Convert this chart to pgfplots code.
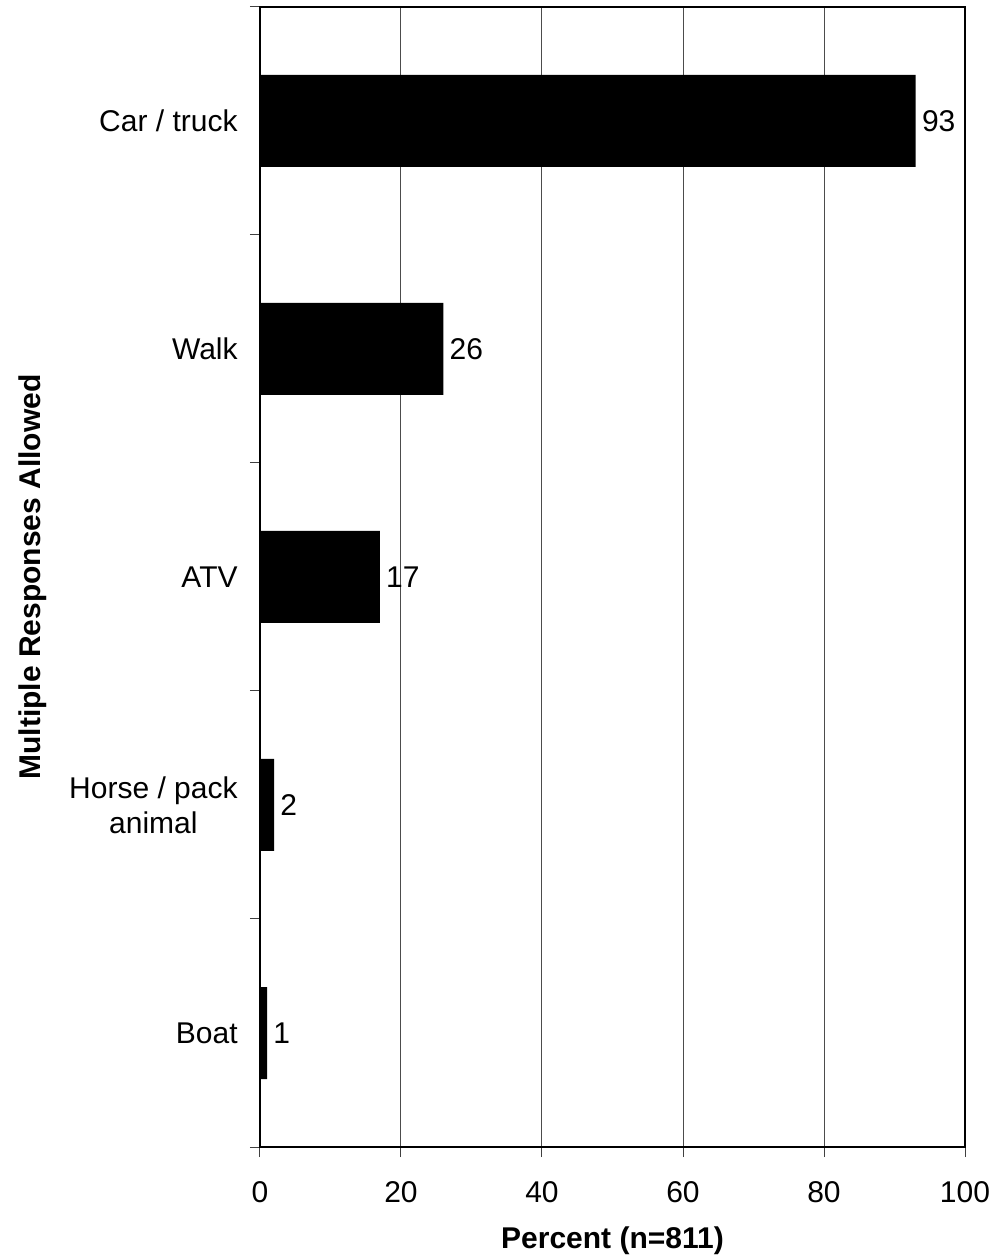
\documentclass[border=0pt]{standalone}
\usepackage{fontspec}
\setmainfont{Liberation Sans}
\usepackage{pgfplots}
\pgfplotsset{compat=1.18}
\begin{document}
\fontsize{15}{17.5}\selectfont
\begin{tikzpicture}
\begin{axis}[
  at={(0,0)}, anchor=south west,
  scale only axis,
  width=352.5pt, height=570pt,
  xbar, bar width=46pt,
  xmin=0, xmax=100, ymin=-0.5, ymax=4.5,
  xtick={0,20,...,100},
  ytick={0,...,4},
  yticklabels={Boat, {Horse / pack\\animal}, ATV, Walk, {Car / truck}},
  yticklabel style={align=center, xshift=-1pt},
  xticklabel style={yshift=-7pt},
  minor ytick={-0.5,0.5,...,4.5},
  major y tick style={draw=none},
  xtick pos=bottom, ytick pos=left,
  tick align=outside,
  major tick length=5pt, minor tick length=5pt,
  tick style={line width=0.5pt, color=black!75},
  axis line style={line width=1pt},
  xmajorgrids,
  grid style={line width=0.5pt, color=black!70},
  /pgf/number format/assume math mode=true,
  ticklabel style={font=\fontsize{15}{17.5}\selectfont},
  xlabel={Percent (n=811)},
  ylabel={Multiple Responses Allowed},
  xlabel style={at={(axis description cs:0.5,-0.082)}, anchor=center, font=\fontsize{15}{17.5}\selectfont\bfseries},
  ylabel style={at={(axis description cs:-0.322,0.5)}, anchor=center, font=\fontsize{15}{17.5}\selectfont\bfseries},
  nodes near coords,
  every node near coord/.append style={anchor=west, inner xsep=3pt, font=\fontsize{15}{17.5}\selectfont},
]
\addplot[fill=black, draw=none] coordinates {
  (1,0) (2,1) (17,2) (26,3) (93,4)
};
\end{axis}
\pgfresetboundingbox
\path[use as bounding box] (-130pt,-56pt) rectangle (367pt,573.5pt);
\end{tikzpicture}
\end{document}
